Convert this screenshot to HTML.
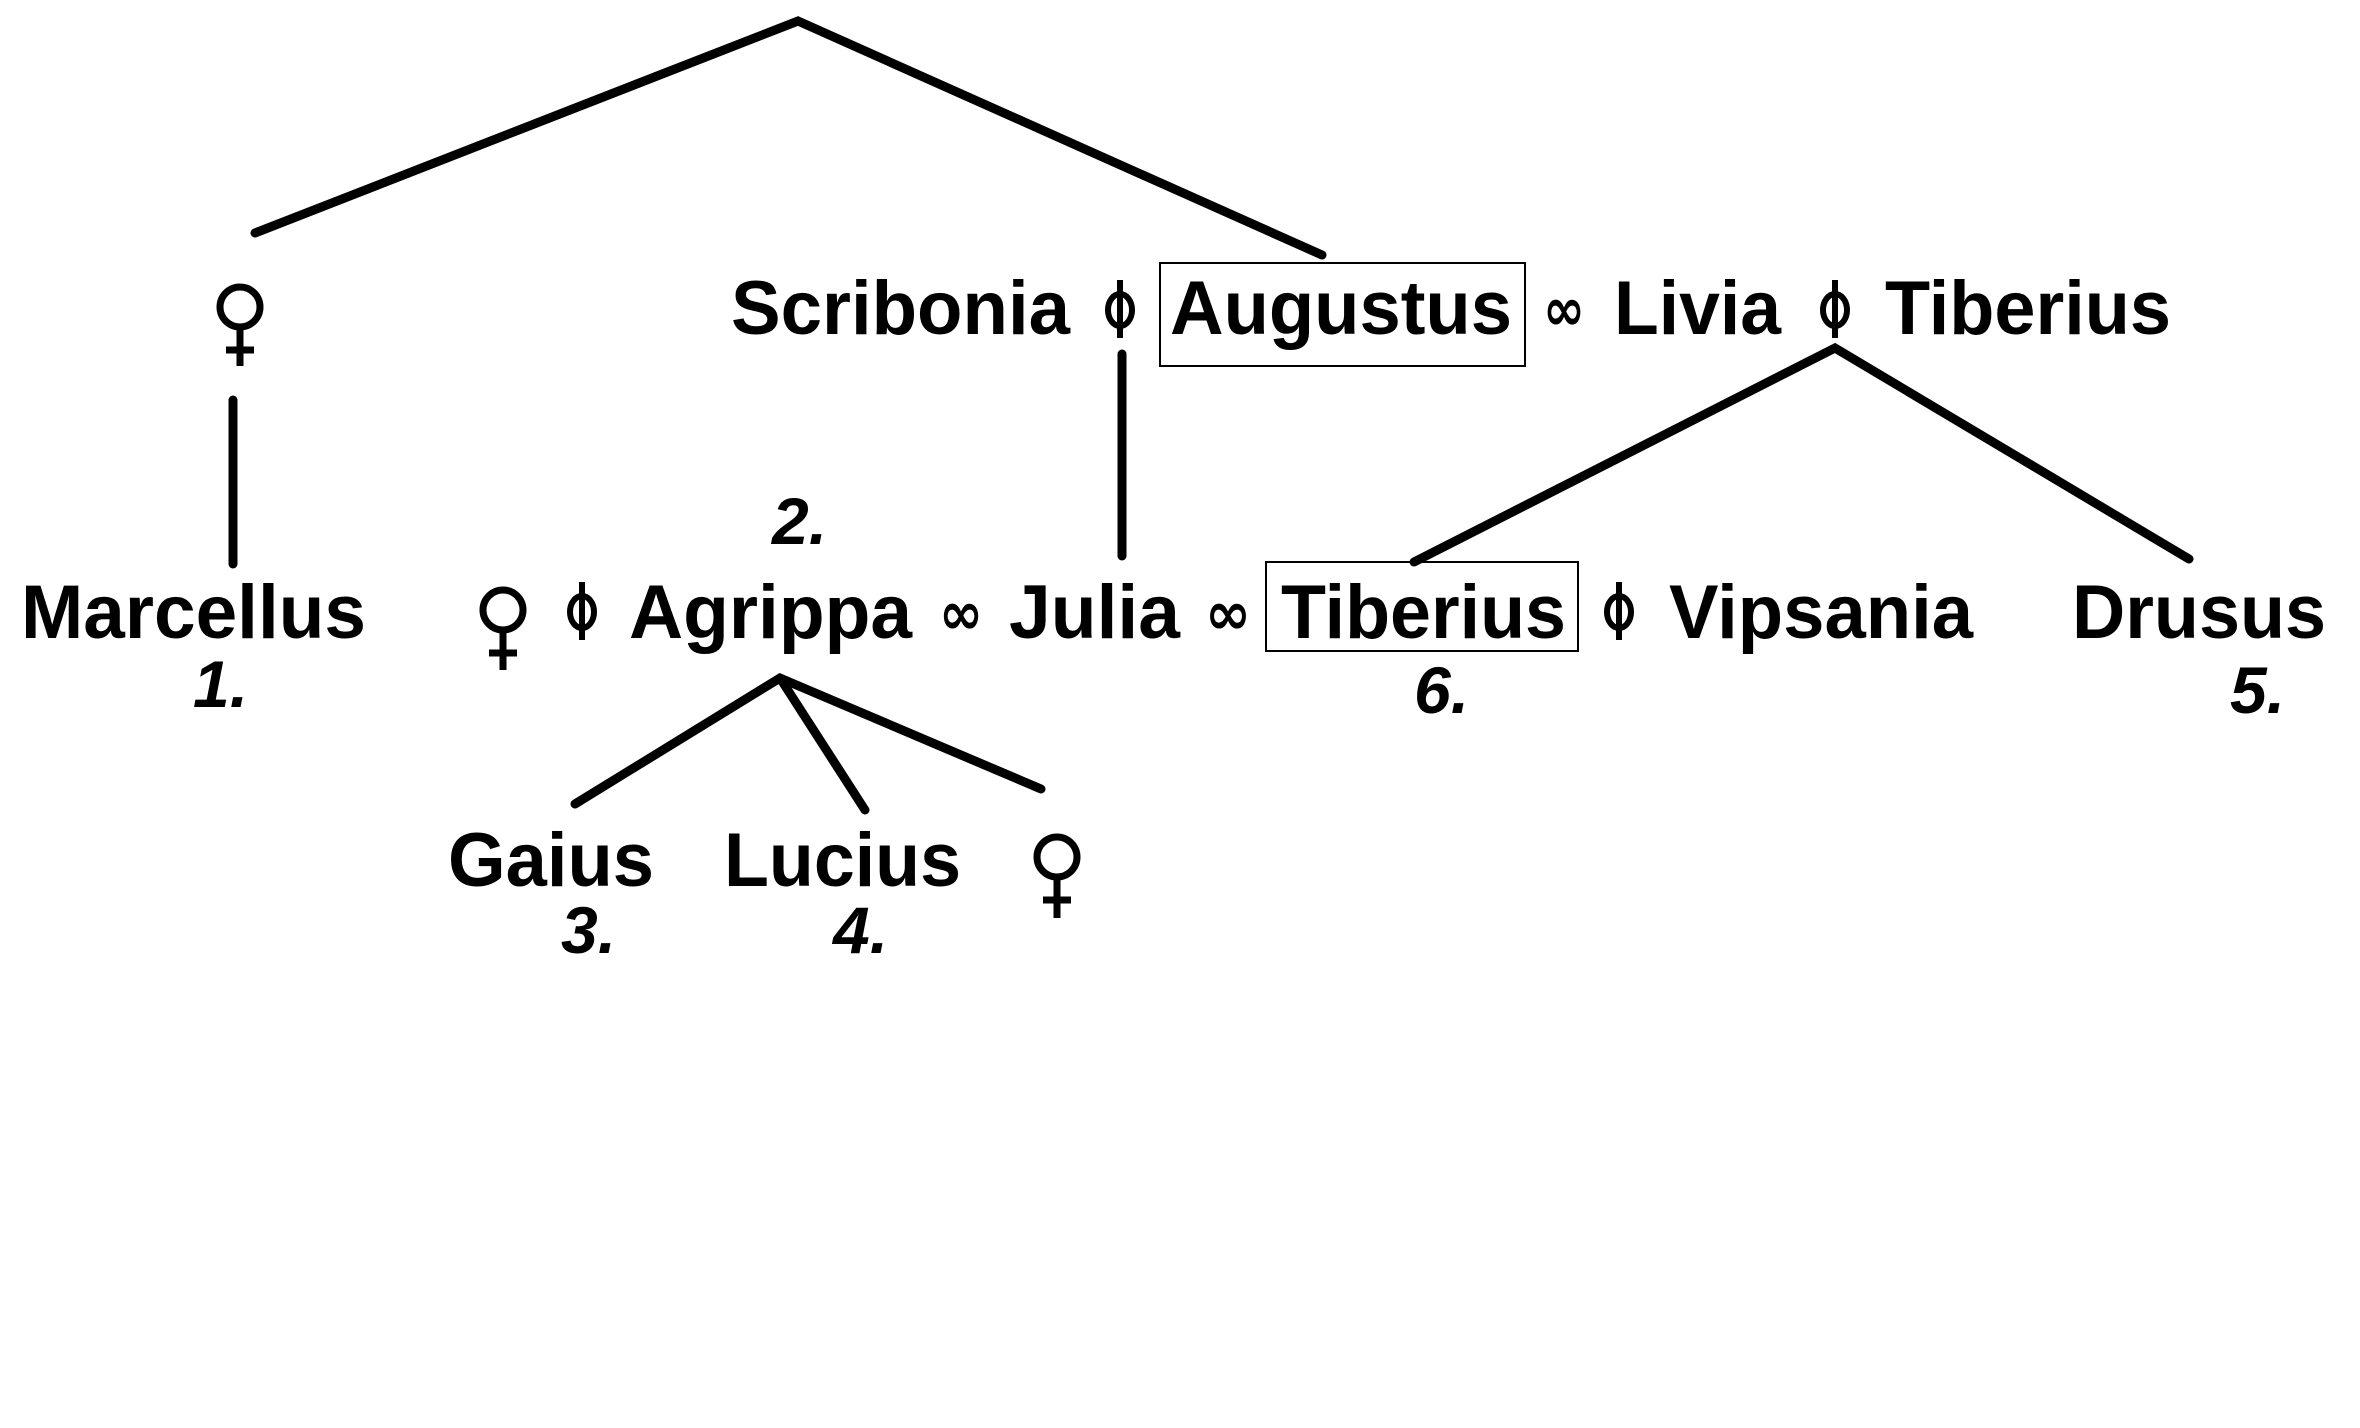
<!DOCTYPE html>
<html><head><meta charset="utf-8"><style>html,body{margin:0;padding:0;background:#fff}svg{display:block}</style></head>
<body>
<svg width="2360" height="1428" viewBox="0 0 2360 1428" xmlns="http://www.w3.org/2000/svg">
<g stroke="#000" stroke-width="9" stroke-linecap="round" fill="none">
<polyline points="255,233 798,21 1322,255"/>
<line x1="233" y1="400" x2="233" y2="564"/>
<line x1="1122" y1="354" x2="1122" y2="556"/>
<polyline points="1414,562 1835,348 2189,559"/>
<polyline points="575,804 780,678 1041,789"/>
<line x1="780" y1="678" x2="865" y2="810"/>
</g>
<g stroke="#000" stroke-width="2" fill="none">
<rect x="1160" y="263" width="365" height="103"/>
<rect x="1266" y="562" width="312" height="89"/>
</g>
<!-- female symbols -->
<g stroke="#000" stroke-width="7" fill="none">
<circle cx="240" cy="307" r="20"/><line x1="240" y1="327" x2="240" y2="366"/><line x1="226" y1="350" x2="254" y2="350"/>
<circle cx="503" cy="610" r="20"/><line x1="503" y1="630" x2="503" y2="670"/><line x1="489" y1="653" x2="517" y2="653"/>
<circle cx="1057" cy="857" r="20"/><line x1="1057" y1="877" x2="1057" y2="918"/><line x1="1043" y1="900" x2="1071" y2="900"/>
</g>
<!-- divorce symbols -->
<g stroke="#000" stroke-width="6" fill="none">
<ellipse cx="1120" cy="310" rx="12" ry="16"/><line x1="1120" y1="280" x2="1120" y2="338"/>
<ellipse cx="1835" cy="310" rx="12" ry="16"/><line x1="1835" y1="280" x2="1835" y2="338"/>
<ellipse cx="582" cy="612" rx="12" ry="16"/><line x1="582" y1="582" x2="582" y2="640"/>
<ellipse cx="1619" cy="612" rx="12" ry="16"/><line x1="1619" y1="582" x2="1619" y2="640"/>
</g>
<g font-family="Liberation Sans, Arial, sans-serif" font-weight="bold" font-size="76" fill="#000">
<text x="731" y="334" textLength="339" lengthAdjust="spacingAndGlyphs">Scribonia</text>
<text x="1170" y="334" textLength="342" lengthAdjust="spacingAndGlyphs">Augustus</text>
<text x="1543" y="330" textLength="42" lengthAdjust="spacingAndGlyphs" font-family="DejaVu Sans, sans-serif" font-size="60">∞</text>
<text x="1614" y="334" textLength="167" lengthAdjust="spacingAndGlyphs">Livia</text>
<text x="1885" y="334" textLength="286" lengthAdjust="spacingAndGlyphs">Tiberius</text>
<text x="21" y="638" textLength="345" lengthAdjust="spacingAndGlyphs">Marcellus</text>
<text x="629" y="638" textLength="283" lengthAdjust="spacingAndGlyphs">Agrippa</text>
<text x="939" y="634" textLength="44" lengthAdjust="spacingAndGlyphs" font-family="DejaVu Sans, sans-serif" font-size="60">∞</text>
<text x="1009" y="638" textLength="171" lengthAdjust="spacingAndGlyphs">Julia</text>
<text x="1205" y="634" textLength="46" lengthAdjust="spacingAndGlyphs" font-family="DejaVu Sans, sans-serif" font-size="60">∞</text>
<text x="1281" y="638" textLength="285" lengthAdjust="spacingAndGlyphs">Tiberius</text>
<text x="1669" y="638" textLength="304" lengthAdjust="spacingAndGlyphs">Vipsania</text>
<text x="2072" y="638" textLength="254" lengthAdjust="spacingAndGlyphs">Drusus</text>
<text x="448" y="886" textLength="206" lengthAdjust="spacingAndGlyphs">Gaius</text>
<text x="724" y="886" textLength="237" lengthAdjust="spacingAndGlyphs">Lucius</text>
</g>
<g font-family="Liberation Sans, Arial, sans-serif" font-weight="bold" font-style="italic" font-size="66" fill="#000">
<text x="772" y="544">2.</text>
<text x="193" y="707">1.</text>
<text x="1414" y="713">6.</text>
<text x="2230" y="713">5.</text>
<text x="561" y="953">3.</text>
<text x="833" y="953">4.</text>
</g>
</svg>
</body></html>
